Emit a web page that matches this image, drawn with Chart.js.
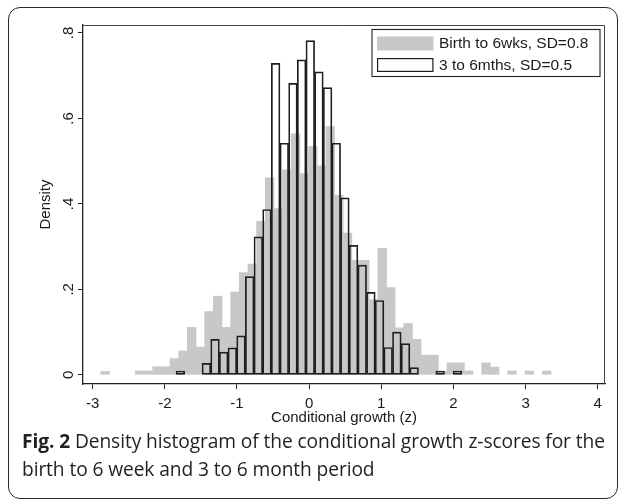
<!DOCTYPE html>
<html>
<head>
<meta charset="utf-8">
<script src="https://cdn.jsdelivr.net/npm/chart.js@4"></script>
<style>
html,body{margin:0;padding:0;background:#fff;}
#wrap{position:relative;width:627px;height:500px;overflow:hidden;background:#fff;}
#frame{position:absolute;left:8px;top:7px;width:610px;height:492px;border:1.4px solid #2a2a2a;border-radius:12px;box-sizing:border-box;}
#cv{position:absolute;left:0;top:0;}
#caption{position:absolute;left:22px;top:427px;width:600px;font-family:'Open Sans',sans-serif;font-size:19.2px;line-height:27.5px;color:#231f20;white-space:nowrap;letter-spacing:-0.1px;}
#caption b{font-weight:700;}
</style>
</head>
<body>
<div id="wrap">
  <div id="frame"></div>
  <canvas id="cv" width="627" height="430" style="width:627px;height:430px;"></canvas>
  <div id="caption"><b>Fig. 2</b> Density histogram of the conditional growth z-scores for the<br>birth to 6 week and 3 to 6 month period</div>
</div>
<script>
// ---- data (bin centres in z, density per bin; bin width 0.12) ----
const greyCenters = [-2.828, -2.348, -2.228, -2.108, -1.988, -1.868, -1.748, -1.628, -1.508,
  -1.388, -1.268, -1.148, -1.028, -0.908, -0.788, -0.668, -0.548, -0.428,
  -0.308, -0.188, -0.068, 0.052, 0.172, 0.292, 0.412, 0.532, 0.652, 0.772,
  0.892, 1.012, 1.132, 1.252, 1.372, 1.492, 1.612, 1.732, 1.852, 1.972, 2.092, 2.212,
  2.452, 2.572, 2.812, 3.052, 3.292];
const greyDensity = [0.008, 0.009, 0.009, 0.019, 0.019, 0.038, 0.056, 0.111, 0.065,
  0.148, 0.184, 0.111, 0.194, 0.239, 0.259, 0.359, 0.461, 0.389,
  0.480, 0.564, 0.471, 0.535, 0.489, 0.581, 0.420, 0.332, 0.268, 0.268,
  0.176, 0.296, 0.204, 0.110, 0.120, 0.083, 0.046, 0.046, 0.008, 0.028, 0.028, 0.009,
  0.028, 0.018, 0.009, 0.009, 0.009];

const blackCenters = [-1.784, -1.424, -1.304, -1.184, -1.064, -0.944, -0.824, -0.704, -0.584,
  -0.464, -0.344, -0.224, -0.104, 0.016, 0.136, 0.256, 0.376, 0.496,
  0.616, 0.736, 0.856, 0.976, 1.096, 1.216, 1.336, 1.456, 1.816, 2.056];
const blackDensity = [0.009, 0.027, 0.083, 0.053, 0.063, 0.091, 0.230, 0.323, 0.387,
  0.729, 0.542, 0.682, 0.737, 0.782, 0.709, 0.672, 0.542, 0.414,
  0.303, 0.257, 0.193, 0.174, 0.064, 0.100, 0.073, 0.017, 0.009, 0.009];

const seriesLabels = ['Birth to 6wks, SD=0.8', '3 to 6mths, SD=0.5'];
const xTickValues = [-3, -2, -1, 0, 1, 2, 3, 4];
const xTickLabels = ['-3', '-2', '-1', '0', '1', '2', '3', '4'];
const yTickValues = [0, 0.2, 0.4, 0.6, 0.8];
const yTickLabels = ['0', '.2', '.4', '.6', '.8'];
const xTitle = 'Conditional growth (z)';
const yTitle = 'Density';

// ---- helpers ----
const toPoints = (xs, ys) => xs.map((x, i) => ({x: x, y: ys[i]}));
const labelFor = (vals, labs) => (v) => {
  const i = vals.findIndex(t => Math.abs(t - v) < 1e-6);
  return i < 0 ? '' : labs[i];
};

const X_MIN = -3.134, X_MAX = 4.101;
const Y_MIN = -0.0215, Y_MAX = 0.8187;
const INK = '#1a1a1a';
const FONT = "'Liberation Sans', Arial, Helvetica, sans-serif";

Chart.defaults.font.family = FONT;
Chart.defaults.color = INK;

const framePlugin = {
  id: 'frame',
  beforeDatasetsDraw(chart) {
    const {ctx, chartArea: a} = chart;
    ctx.save();
    ctx.strokeStyle = '#444';
    ctx.lineWidth = 1;
    ctx.beginPath();
    ctx.moveTo(a.left, a.top + 0.5);
    ctx.lineTo(a.right - 0.5, a.top + 0.5);
    ctx.lineTo(a.right - 0.5, a.bottom);
    ctx.stroke();
    ctx.restore();
  }
};

const boxLegend = {
  id: 'boxLegend',
  afterDraw(chart) {
    const {ctx, chartArea: a} = chart;
    const ds = chart.data.datasets;
    const bw = 228, bh = 47;
    const bx = a.right - 5 - bw, by = a.top + 4.5;
    ctx.save();
    ctx.fillStyle = '#fff';
    ctx.fillRect(bx, by, bw, bh);
    ctx.strokeStyle = '#222';
    ctx.lineWidth = 1.1;
    ctx.strokeRect(bx, by, bw, bh);
    ds.forEach((d, i) => {
      const sy = by + 7 + i * 21.5;
      const sx = bx + 5, sw = 56.5, sh = 14;
      if (d.borderWidth) {
        ctx.fillStyle = '#fff';
        ctx.fillRect(sx, sy, sw, sh);
        ctx.strokeStyle = d.borderColor;
        ctx.lineWidth = 1.2;
        ctx.strokeRect(sx + 0.6, sy + 0.6, sw - 1.2, sh - 1.2);
      } else {
        ctx.fillStyle = d.backgroundColor;
        ctx.fillRect(sx, sy, sw, sh);
      }
      ctx.fillStyle = INK;
      ctx.font = '15.5px ' + FONT;
      ctx.textAlign = 'left';
      ctx.textBaseline = 'middle';
      ctx.fillText(d.label, bx + 67, sy + sh / 2 + 0.5);
    });
    ctx.restore();
  }
};

new Chart(document.getElementById('cv'), {
  type: 'bar',
  data: {
    datasets: [
      {
        label: seriesLabels[0],
        data: toPoints(greyCenters, greyDensity),
        xAxisID: 'x',
        backgroundColor: '#c8c8c8',
        borderWidth: 0,
        barPercentage: 1,
        categoryPercentage: 1,
        grouped: false,
        order: 1
      },
      {
        label: seriesLabels[1],
        data: toPoints(blackCenters, blackDensity),
        xAxisID: 'x2',
        backgroundColor: 'rgba(255,255,255,0)',
        borderColor: '#1e1e1e',
        borderWidth: 1.05,
        borderSkipped: false,
        barPercentage: 1,
        categoryPercentage: 1,
        grouped: false,
        order: 0
      }
    ]
  },
  options: {
    responsive: false,
    animation: false,
    devicePixelRatio: 1,
    layout: {padding: {left: 0, top: 25, right: 22, bottom: 0}},
    plugins: {legend: {display: false}, tooltip: {enabled: false}},
    scales: {
      x: {
        type: 'linear', position: 'bottom', min: X_MIN, max: X_MAX, offset: false,
        grid: {display: true, drawOnChartArea: false, drawTicks: true, tickLength: 5, color: '#222', lineWidth: 1, offset: false},
        border: {display: true, color: '#222', width: 1.3},
        ticks: {stepSize: 1, includeBounds: false, autoSkip: false, maxRotation: 0, minRotation: 0, padding: 6,
          font: {size: 15}, color: INK, callback: labelFor(xTickValues, xTickLabels)},
        title: {display: true, text: xTitle, font: {size: 15}, color: INK, padding: {top: 0, bottom: 3}},
        afterFit(s) { s.height = 46; }
      },
      x2: {
        type: 'linear', position: 'bottom', display: false, min: X_MIN, max: X_MAX, offset: false,
        grid: {offset: false}, ticks: {stepSize: 1, includeBounds: false}
      },
      y: {
        type: 'linear', position: 'left', min: Y_MIN, max: Y_MAX,
        grid: {display: true, drawOnChartArea: false, drawTicks: true, tickLength: 5, color: '#222', lineWidth: 1},
        border: {display: true, color: '#222', width: 1.3},
        ticks: {stepSize: 0.2, includeBounds: false, minRotation: 90, maxRotation: 90, crossAlign: 'center', padding: 3,
          font: {size: 15}, color: INK, callback: labelFor(yTickValues, yTickLabels)},
        title: {display: true, text: yTitle, font: {size: 15}, color: INK, padding: {top: 37, bottom: 0}},
        afterFit(s) { s.width = 83; }
      }
    }
  },
  plugins: [framePlugin, boxLegend]
});
</script>
</body>
</html>
